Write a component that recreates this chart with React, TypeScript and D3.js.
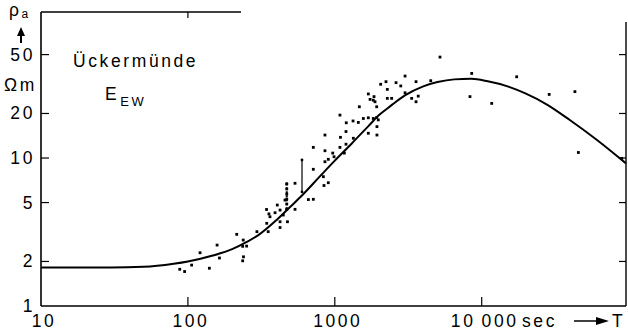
import React from 'react';
import * as d3 from 'd3';

const W = 628;
const H = 336;

// axis ticks
const xTicks = [10, 100, 1000, 10000];
const xTickLabels = ['10', '100', '1000', '10\u2009000'];
const yTicks = [1, 2, 5, 10, 20, 50];
const yTickLabels = ['1', '2', '5', '10', '20', '50'];
const yInnerTicks = [2, 5, 10, 20, 50];

// model curve (period T in s, apparent resistivity in Ωm)
const modelT = [10, 30, 50, 80, 100, 150, 200, 250, 300, 400, 500, 600, 800, 1000, 1300, 1700, 2000, 2400, 3000, 4000, 5000, 6500, 8500, 11000, 15000, 20000, 28000, 40000, 60000, 96000];
const modelRho = [1.82, 1.82, 1.84, 1.93, 2.0, 2.2, 2.42, 2.7, 3.0, 3.8, 4.7, 5.6, 7.6, 9.6, 12.5, 16.5, 19.5, 22.5, 26.5, 30.5, 32.6, 34, 34.3, 33, 30.5, 27.2, 22.9, 18, 13.4, 9.2];

// observed values
const obsT = [88, 95, 106, 121, 140, 158, 164, 215, 238, 236, 251, 239, 236, 295, 344, 352, 343, 356, 362, 392, 406, 424, 424, 424, 446, 458, 476, 536, 536, 661, 714, 714, 714, 836, 844, 903, 857, 857, 857, 903, 968, 988, 1084, 1093, 1161, 1192, 1192, 1337, 1084, 1197, 1331, 1446, 1691, 1936, 1936, 1469, 1564, 1691, 1691, 1738, 1828, 1828, 1849, 1878, 1928, 1977, 1928, 2052, 2231, 2278, 2278, 2438, 2611, 2812, 3008, 3008, 3336, 3573, 3573, 3698, 4498, 5200, 8550, 8320, 11700, 17300, 28800, 43100, 45500, 89800, 471, 471, 471, 471, 471, 471];
const obsRho = [1.77, 1.71, 1.89, 2.29, 1.8, 2.58, 2.11, 3.05, 2.79, 2.53, 2.54, 2.15, 2.02, 3.18, 3.62, 3.18, 4.49, 4.19, 4.01, 4.27, 4.81, 4.45, 3.71, 3.39, 4.12, 5.2, 3.71, 6.75, 4.5, 5.24, 5.26, 8.39, 11.8, 7.48, 6.52, 6.81, 14.3, 11.2, 9.44, 9.8, 10.8, 10.2, 11.8, 13.8, 10.8, 15.1, 12.4, 13.6, 19.5, 17.3, 17.8, 17.4, 14.7, 16.3, 14.3, 22.2, 18.5, 18.7, 27.1, 24.9, 24.6, 18.5, 26, 24, 18.8, 18.1, 22.2, 31.5, 32.8, 29.1, 25.3, 25.3, 32.3, 30.7, 35.8, 27.6, 25.3, 32.8, 24, 26.2, 33.3, 48.1, 37.3, 26, 23.4, 35.4, 26.9, 28.1, 10.9, 9.95, 6.67, 6.18, 5.71, 5.28, 4.89, 4.52];

// vertical scatter ranges
const rangeT = [471, 598];
const rangeLo = [4.5, 5.9];
const rangeHi = [6.7, 9.7];
const rangeDotted = [true, false];

const FONT = '"Liberation Sans", Arial, Helvetica, sans-serif';

export default function App() {
  const x = d3.scaleLog().domain([10, 96000]).range([41, 626]);
  const y = d3.scaleLog().domain([1, 97]).range([306, 12]);
  const line = d3
    .line<number>()
    .x((_, i) => x(modelT[i]))
    .y((d) => y(d))
    .curve(d3.curveMonotoneX);

  const x0 = x.range()[0];
  const x1 = x.range()[1];
  const y0 = y.range()[0];
  const y1 = y.range()[1];

  const textStyle: React.CSSProperties = { fontFamily: FONT, fontSize: 17.5, letterSpacing: 2.6 };

  return (
    <svg width={W} height={H} style={{ position: 'absolute', left: 0, top: 0, background: '#fff' }}>
      <rect x={0} y={0} width={W} height={H} fill="#fff" />
      {/* frame */}
      <line x1={x0} x2={x0} y1={y1} y2={y0} stroke="#000" strokeWidth={1.6} />
      <line x1={x0} x2={x1} y1={y0} y2={y0} stroke="#000" strokeWidth={1.6} />
      <line x1={x1} x2={x1} y1={y1 + 10} y2={y0} stroke="#000" strokeWidth={1.4} />
      <line x1={x0} x2={x(230)} y1={y1} y2={y1} stroke="#000" strokeWidth={1.4} />
      <line x1={x(100)} x2={x(100)} y1={y1} y2={y1 + 6} stroke="#000" strokeWidth={1.2} />

      {/* y ticks */}
      {yInnerTicks.map((v) => (
        <g key={'yt' + v}>
          <line x1={x0} x2={x0 + 8} y1={y(v)} y2={y(v)} stroke="#000" strokeWidth={1.2} />
          <line x1={x1 - 7} x2={x1} y1={y(v)} y2={y(v)} stroke="#000" strokeWidth={1.2} />
        </g>
      ))}
      {yTicks.map((v, i) => (
        <text key={'yl' + v} x={35} y={y(v) + 6} textAnchor="end" style={textStyle}>
          {yTickLabels[i]}
        </text>
      ))}

      {/* x ticks */}
      {xTicks.slice(1).map((v) => (
        <line key={'xt' + v} x1={x(v)} x2={x(v)} y1={y0} y2={y0 - 9} stroke="#000" strokeWidth={1.2} />
      ))}
      {xTicks.map((v, i) => (
        <text key={'xl' + v} x={x(v) + 3} y={327} textAnchor="middle" style={textStyle}>
          {xTickLabels[i]}
        </text>
      ))}
      <text x={522} y={327} style={textStyle}>sec</text>
      <line x1={574} x2={600} y1={321} y2={321} stroke="#000" strokeWidth={1.5} />
      <path d="M596,317 L609,321 L596,325 Z" fill="#000" />
      <text x={612} y={327} style={{ ...textStyle, letterSpacing: 0 }}>T</text>

      {/* y axis title */}
      <text x={9} y={16} style={textStyle}>
        ρ<tspan fontSize={12} dy={2}>a</tspan>
      </text>
      <path d="M21,27 L17,36 L25,36 Z" fill="#000" />
      <line x1={21} x2={21} y1={34} y2={43} stroke="#000" strokeWidth={2} />
      <text x={4} y={91} style={textStyle}>Ωm</text>

      {/* annotations */}
      <text x={73} y={67} style={textStyle}>Ückermünde</text>
      <text x={105} y={100} style={textStyle}>
        E<tspan fontSize={13} dx={1} dy={6}>EW</tspan>
      </text>

      {/* vertical ranges */}
      {rangeT.map((t, i) => (
        <line
          key={'r' + i}
          x1={x(t)}
          x2={x(t)}
          y1={y(rangeLo[i])}
          y2={y(rangeHi[i])}
          stroke="#000"
          strokeWidth={rangeDotted[i] ? 2 : 1.2}
          strokeDasharray={rangeDotted[i] ? '2,2' : undefined}
        />
      ))}
      {rangeT.map((t, i) => (
        <g key={'re' + i}>
          <circle cx={x(t)} cy={y(rangeLo[i])} r={1.4} fill="#000" />
          <circle cx={x(t)} cy={y(rangeHi[i])} r={1.4} fill="#000" />
        </g>
      ))}

      {/* observations */}
      {obsT.map((t, i) => (
        <rect key={'o' + i} x={x(t) - 1.4} y={y(obsRho[i]) - 1.4} width={2.8} height={2.8} fill="#000" />
      ))}

      {/* model curve */}
      <path d={line(modelRho) || ''} fill="none" stroke="#000" strokeWidth={2} />
    </svg>
  );
}
